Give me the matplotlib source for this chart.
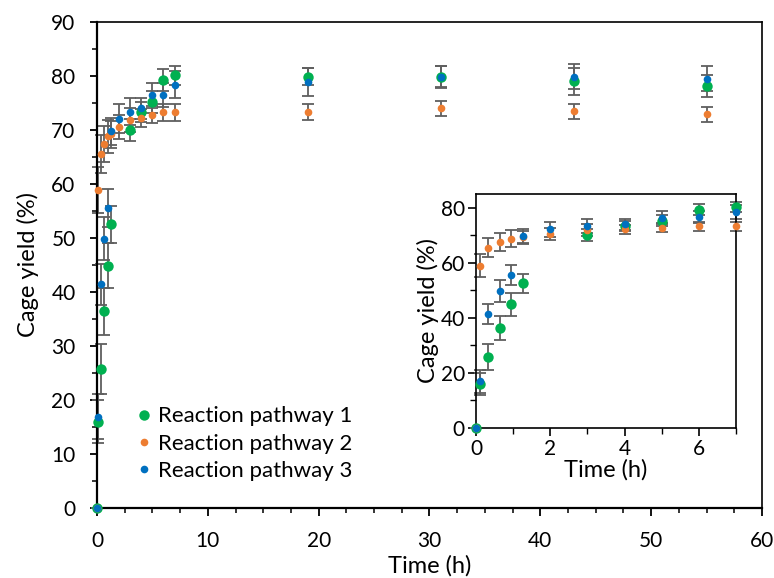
import matplotlib
matplotlib.use("Agg")
import matplotlib.pyplot as plt
from matplotlib.ticker import MultipleLocator

plt.rcParams['font.family'] = ['Lato', 'DejaVu Sans']

# reaction pathway 1 (green)
t1 = [0, 0.1, 0.33, 0.65, 0.95, 1.27, 3, 4, 5, 6, 7, 19, 31, 43, 55]
y1 = [0, 16.0, 25.8, 36.4, 44.9, 52.5, 70.0, 73.3, 75.2, 79.2, 80.1, 79.9, 79.8, 79.0, 78.1]
e1 = [0, 4.0, 4.6, 4.4, 4.1, 3.4, 2.1, 1.8, 2.0, 2.0, 1.8, 1.6, 2.0, 2.5, 2.0]

# reaction pathway 2 (orange)
t2 = [0, 0.1, 0.33, 0.65, 0.95, 1.27, 2, 3, 4, 5, 6, 7, 19, 31, 43, 55]
y2 = [0, 58.9, 65.5, 67.4, 68.8, 69.2, 70.6, 71.8, 72.2, 72.8, 73.3, 73.3, 73.4, 74.0, 73.5, 72.9]
e2 = [0, 4.2, 3.5, 3.3, 3.0, 2.5, 2.2, 2.2, 1.6, 1.6, 1.6, 1.6, 1.5, 1.4, 1.4, 1.4]

# reaction pathway 3 (blue)
t3 = [0, 0.1, 0.33, 0.65, 0.95, 1.27, 2, 3, 4, 5, 6, 7, 19, 31, 43, 55]
y3 = [0, 16.9, 41.4, 49.9, 55.6, 69.8, 72.1, 73.4, 74.0, 76.4, 76.5, 78.4, 78.9, 79.9, 79.9, 79.5]
e3 = [0, 4.2, 3.8, 4.0, 3.5, 2.5, 2.7, 2.5, 2.0, 2.3, 2.2, 2.5, 2.6, 2.0, 2.3, 2.3]

labels = ['Reaction pathway 1', 'Reaction pathway 2', 'Reaction pathway 3']
colors = ['#00B050', '#ED7D31', '#0070C0']
sizes = [7.5, 5.5, 5.5]
err_color = '#5f5f5f'


def draw_series(ax, with_labels):
    series = [(t1, y1, e1), (t2, y2, e2), (t3, y3, e3)]
    for (t, y, e), lab, c, ms in zip(series, labels, colors, sizes):
        ax.errorbar(t, y, yerr=e, fmt='none', ecolor=err_color, elinewidth=1.3,
                    capsize=4, capthick=1.3, zorder=2, clip_on=False)
        ax.plot(t, y, 'o', color=c, markersize=ms, markeredgewidth=0,
                label=lab if with_labels else None, zorder=3, clip_on=False)


fig = plt.figure(figsize=(7.74, 5.78), dpi=100)
ax = fig.add_axes([0.1253, 0.1211, 0.8592, 0.8409])
draw_series(ax, True)
ax.set_xlim(0, 60)
ax.set_ylim(0, 90)
ax.xaxis.set_major_locator(MultipleLocator(10))
ax.xaxis.set_minor_locator(MultipleLocator(2.5))
ax.yaxis.set_major_locator(MultipleLocator(10))
ax.yaxis.set_minor_locator(MultipleLocator(5))
ax.tick_params(which='major', direction='out', length=5.4, width=1.3, labelsize=15)
ax.tick_params(axis='y', which='major', pad=10)
ax.tick_params(axis='x', which='major', pad=11)
ax.tick_params(which='minor', direction='out', length=3.6, width=1.1)
for s in ['left', 'bottom']:
    ax.spines[s].set_linewidth(1.6)
for s in ['top', 'right']:
    ax.spines[s].set_linewidth(1.2)
ax.set_xlabel('Time (h)', fontsize=17, labelpad=3)
ax.set_ylabel('Cage yield (%)', fontsize=17, labelpad=9)

leg = ax.legend(loc='lower left', bbox_to_anchor=(0.025, 0.02), frameon=False,
                fontsize=16, handletextpad=0.0, labelspacing=0.33, handlelength=1.2,
                borderaxespad=0.38)

# inset with the first 7 hours
ins = fig.add_axes([0.615, 0.2595, 0.336, 0.405])
draw_series(ins, False)
ins.set_xlim(0, 7)
ins.set_ylim(0, 85)
ins.xaxis.set_major_locator(MultipleLocator(2))
ins.xaxis.set_minor_locator(MultipleLocator(1))
ins.yaxis.set_major_locator(MultipleLocator(20))
ins.yaxis.set_minor_locator(MultipleLocator(10))
ins.tick_params(which='major', direction='out', length=6, width=1.2, labelsize=15, pad=2)
ins.tick_params(which='minor', direction='out', length=4, width=1.0)
for s in ins.spines.values():
    s.set_linewidth(1.2)
ins.set_xlabel('Time (h)', fontsize=17, labelpad=0)
ins.set_ylabel('Cage yield (%)', fontsize=17, labelpad=1)

fig.savefig('out.png', dpi=100)
